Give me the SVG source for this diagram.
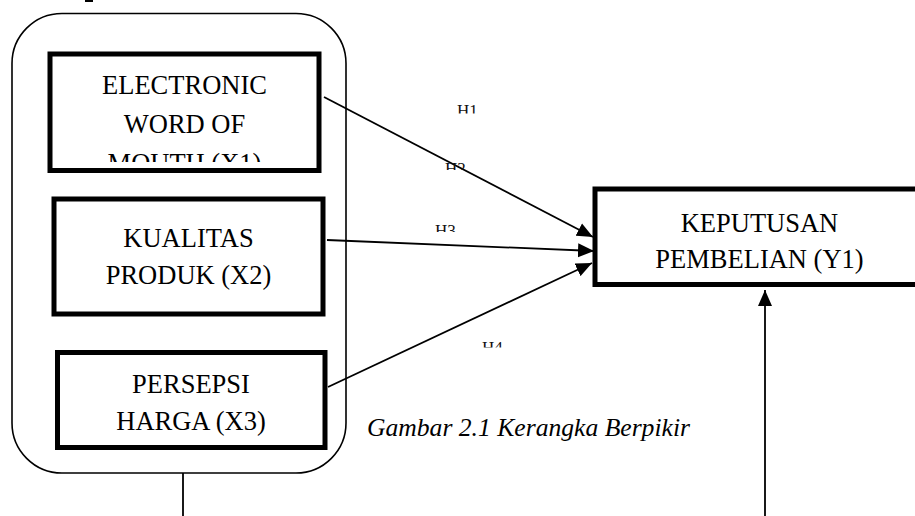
<svg xmlns="http://www.w3.org/2000/svg" width="915" height="516" viewBox="0 0 915 516">
  <style>
    .box { fill: #ffffff; stroke: #000000; stroke-width: 5; }
    .frame { fill: none; stroke: #000000; stroke-width: 1.6; }
    .lbl { font-family: "Liberation Serif", "Times New Roman", serif; font-size: 26.5px; fill: #000000; text-anchor: middle; }
    .hyp { font-family: "Liberation Serif", "Times New Roman", serif; font-size: 17px; fill: #111111; }
    .cap { font-family: "Liberation Serif", "Times New Roman", serif; font-size: 26px; font-style: italic; fill: #000000; }
    .conn { fill: none; stroke: #000000; stroke-width: 1.8; }
  </style>
  <defs>
    <marker id="arrow" markerUnits="userSpaceOnUse" markerWidth="17" markerHeight="15" viewBox="0 0 17 15" refX="16" refY="7.5" orient="auto">
      <path d="M0,0.5 L16,7.5 L0,14.5 Z" fill="#000000"/>
    </marker>
    <clipPath id="clipX1"><rect x="52" y="56" width="265" height="106"/></clipPath>
    <clipPath id="clipH1"><rect x="450" y="104" width="40" height="9.5"/></clipPath>
    <clipPath id="clipH2"><rect x="440" y="161" width="40" height="9"/></clipPath>
    <clipPath id="clipH3"><rect x="430" y="223" width="40" height="9"/></clipPath>
    <clipPath id="clipH4"><rect x="476" y="340" width="40" height="7.5"/></clipPath>
  </defs>

  <rect width="915" height="516" fill="#ffffff"/>

  <!-- fragment at the top edge -->
  <line x1="85" y1="1" x2="93" y2="1" stroke="#000000" stroke-width="2"/>

  <!-- grouping frame around the independent variables -->
  <g id="frame">
    <rect class="frame" x="12" y="13.5" width="334" height="459.5" rx="50" ry="50"/>
  </g>

  <g id="x1">
    <rect class="box" x="50" y="54" width="269" height="116.5"/>
    <g clip-path="url(#clipX1)">
      <text class="lbl" x="184.5" y="94">ELECTRONIC</text>
      <text class="lbl" x="184.5" y="133">WORD OF</text>
      <text class="lbl" x="184.5" y="172">MOUTH (X1)</text>
    </g>
  </g>

  <g id="x2">
    <rect class="box" x="54" y="199" width="269" height="115"/>
    <text class="lbl" x="188.5" y="246.5">KUALITAS</text>
    <text class="lbl" x="188.5" y="284">PRODUK (X2)</text>
  </g>

  <g id="x3">
    <rect class="box" x="57.5" y="352.5" width="267.5" height="95"/>
    <text class="lbl" x="191" y="393">PERSEPSI</text>
    <text class="lbl" x="191" y="430">HARGA (X3)</text>
  </g>

  <g id="y1">
    <rect class="box" x="595" y="189" width="330" height="95.5"/>
    <text class="lbl" x="759.5" y="231.5">KEPUTUSAN</text>
    <text class="lbl" x="759.5" y="267.5">PEMBELIAN (Y1)</text>
  </g>

  <g id="connectors">
    <line class="conn" x1="324" y1="97" x2="593" y2="237" marker-end="url(#arrow)"/>
    <line class="conn" x1="327" y1="240" x2="594" y2="251" marker-end="url(#arrow)"/>
    <line class="conn" x1="328" y1="387" x2="592" y2="263" marker-end="url(#arrow)"/>
    <line class="conn" x1="765" y1="516" x2="765" y2="290" marker-end="url(#arrow)"/>
    <line class="conn" x1="183" y1="473" x2="183" y2="516"/>
  </g>

  <g id="hypotheses">
    <text class="hyp" x="457" y="116" clip-path="url(#clipH1)">H1</text>
    <text class="hyp" x="445" y="174" clip-path="url(#clipH2)">H2</text>
    <text class="hyp" x="435" y="236" clip-path="url(#clipH3)">H3</text>
    <text class="hyp" x="482" y="353" clip-path="url(#clipH4)">H4</text>
  </g>

  <text class="cap" x="367" y="436" textLength="323" lengthAdjust="spacingAndGlyphs">Gambar 2.1 Kerangka Berpikir</text>
</svg>
